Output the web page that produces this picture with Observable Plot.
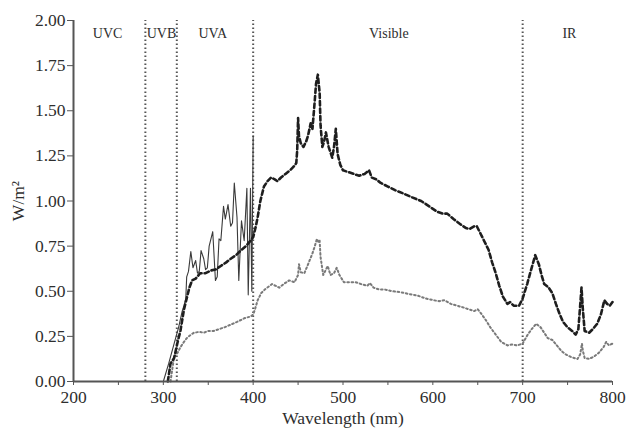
<!DOCTYPE html>
<html>
<head>
<meta charset="utf-8">
<script src="https://cdn.jsdelivr.net/npm/d3@7"></script>
<script src="https://cdn.jsdelivr.net/npm/@observablehq/plot@0.6"></script>
<style>
  html, body { margin: 0; padding: 0; background: #fff; }
  #chart svg, #chart svg text { font-family: "Liberation Serif", "Times New Roman", serif !important; }
</style>
</head>
<body>
<div id="chart"></div>
<script>
// Region boundaries and labels
const boundaryNm = [280, 315, 400, 700];
const regionLabels = ["UVC", "UVB", "UVA", "Visible", "IR"];
const regionLabelNm = [238, 298, 355, 551, 752];
const regionLabelY = 1.93;

// Axis ticks
const yTicks = [0, 0.25, 0.5, 0.75, 1, 1.25, 1.5, 1.75, 2];
const xTicks = [200, 250, 300, 350, 400, 450, 500, 550, 600, 650, 700, 750, 800];

// Series 1: dashed curve
const dashedNm = [305,308,312,316,319,323,326,329,332,336,341,347,353,358,364,370,375,381,386,392,397,400,403,405,408,412,416,420,424,427,431,436,441,445,448,449,450,451,453,456,459,461,464,466,468,470,472,474,475,477,479,481,484,488,490,492,494,497,500,506,512,518,524,529,532,537,542,550,558,568,577,587,596,605,611,616,623,631,637,641,646,649,653,657,662,666,670,674,678,683,686,690,696,700,705,710,714,718,721,724,729,733,737,741,745,750,755,759,762,764,765.5,767,769,774,778,783,787,791,794,797,800];
const dashedW = [0,0.10,0.13,0.22,0.28,0.40,0.46,0.52,0.56,0.57,0.60,0.60,0.615,0.62,0.64,0.66,0.68,0.70,0.725,0.75,0.78,0.80,0.86,0.91,1.00,1.08,1.11,1.13,1.12,1.11,1.13,1.15,1.17,1.19,1.21,1.28,1.46,1.36,1.32,1.30,1.33,1.36,1.43,1.40,1.52,1.65,1.70,1.60,1.42,1.30,1.33,1.38,1.30,1.24,1.30,1.40,1.26,1.20,1.17,1.16,1.15,1.14,1.15,1.17,1.13,1.12,1.10,1.08,1.06,1.04,1.02,1.00,0.97,0.94,0.93,0.93,0.90,0.87,0.85,0.845,0.86,0.86,0.82,0.78,0.73,0.66,0.60,0.53,0.47,0.43,0.44,0.42,0.42,0.46,0.54,0.63,0.70,0.65,0.59,0.54,0.52,0.49,0.43,0.375,0.33,0.30,0.28,0.26,0.29,0.42,0.52,0.40,0.28,0.27,0.29,0.32,0.37,0.45,0.43,0.42,0.44];

// Series 2: dotted curve
const dottedNm = [308,310,312,316,319,323,327,331,334,340,345,350,356,362,368,375,382,390,397,400,402,405,409,413,417,421,425,429,434,440,446,450,451,453,457,462,466,468,471,473,474,475,478,481,483,486,490,493,496,501,507,514,520,527,530,534,540,546,555,564,573,583,592,601,607,613,620,627,634,640,646,650,654,659,664,670,676,683,688,694,700,705,710,715,720,724,728,733,738,743,748,754,761,764,766,767,769,774,780,785,790,793,796,800];
const dottedW = [0,0.07,0.135,0.16,0.19,0.22,0.245,0.26,0.27,0.275,0.27,0.28,0.28,0.29,0.30,0.315,0.33,0.35,0.36,0.37,0.40,0.45,0.49,0.51,0.525,0.54,0.53,0.52,0.54,0.56,0.55,0.59,0.65,0.605,0.60,0.66,0.71,0.74,0.79,0.77,0.78,0.69,0.59,0.62,0.64,0.59,0.60,0.63,0.59,0.55,0.55,0.55,0.54,0.53,0.545,0.52,0.51,0.51,0.50,0.495,0.485,0.476,0.46,0.45,0.445,0.45,0.43,0.42,0.41,0.40,0.39,0.40,0.375,0.34,0.30,0.26,0.22,0.20,0.205,0.20,0.21,0.255,0.29,0.32,0.30,0.27,0.24,0.23,0.20,0.17,0.15,0.135,0.125,0.15,0.21,0.17,0.13,0.125,0.14,0.16,0.19,0.22,0.20,0.21];

// Series 3: solid (UV) curve
const solidNm = [300,306,312,317,321,323,325,326,328,330.6,333,336,338,340,342,345,347,349,351,355,358,360,362,364,367,369,372,375,377,379,382,384,387,390,393,394.5,397,398.5,400];
const solidW = [0,0.10,0.21,0.30,0.39,0.42,0.46,0.58,0.61,0.72,0.63,0.67,0.60,0.61,0.725,0.68,0.62,0.63,0.75,0.83,0.56,0.58,0.79,0.78,0.97,0.90,0.98,0.86,0.88,1.10,0.91,0.56,0.89,0.78,1.07,0.48,1.07,0.50,1.36];

const dashed = dashedNm.map((x, i) => ({x, y: dashedW[i]}));
const dotted = dottedNm.map((x, i) => ({x, y: dottedW[i]}));
const solid = solidNm.map((x, i) => ({x, y: solidW[i]}));
const labels = regionLabels.map((t, i) => ({t, x: regionLabelNm[i], y: regionLabelY}));

const font = "Liberation Serif, Times New Roman, serif";

const chart = Plot.plot({
  width: 628,
  height: 429,
  marginLeft: 73,
  marginRight: 16,
  marginTop: 20,
  marginBottom: 48,
  style: {fontFamily: font, color: "#2e2e2e", background: "#fff", overflow: "visible"},
  x: {domain: [200, 800]},
  y: {domain: [0, 2]},
  marks: [
    Plot.ruleX(boundaryNm, {y1: 0, y2: 2, stroke: "#555", strokeWidth: 2, strokeDasharray: "1.4,2.6"}),
    Plot.line(dotted, {x: "x", y: "y", stroke: "#7a7a7a", strokeWidth: 2, strokeDasharray: "1.6,2.6"}),
    Plot.line(solid, {x: "x", y: "y", stroke: "#3a3a3a", strokeWidth: 1.1}),
    Plot.line(dashed, {x: "x", y: "y", stroke: "#1e1e1e", strokeWidth: 2.6, strokeDasharray: "4.5,3"}),
    Plot.text(labels, {x: "x", y: "y", text: "t", fontSize: 14, fill: "#2e2e2e"}),
    Plot.axisY({ticks: yTicks, tickFormat: d3.format(".2f"), tickSize: 6, tickPadding: 2, fontSize: 17.5, stroke: "#555",
      label: "W/m²", labelAnchor: "center", labelArrow: "none", labelOffset: 62}),
    Plot.axisX({ticks: xTicks, tickFormat: d => d % 100 === 0 ? String(d) : "", tickSize: 4, tickPadding: 5, fontSize: 17.5, stroke: "#555",
      label: "Wavelength (nm)", labelAnchor: "center", labelArrow: "none", labelOffset: 42}),
    Plot.ruleX([200], {y1: 0, y2: 2, stroke: "#555", strokeWidth: 2}),
    Plot.ruleY([0], {x1: 200, x2: 800, stroke: "#555", strokeWidth: 2})
  ]
});
document.getElementById("chart").appendChild(chart);
</script>
</body>
</html>
